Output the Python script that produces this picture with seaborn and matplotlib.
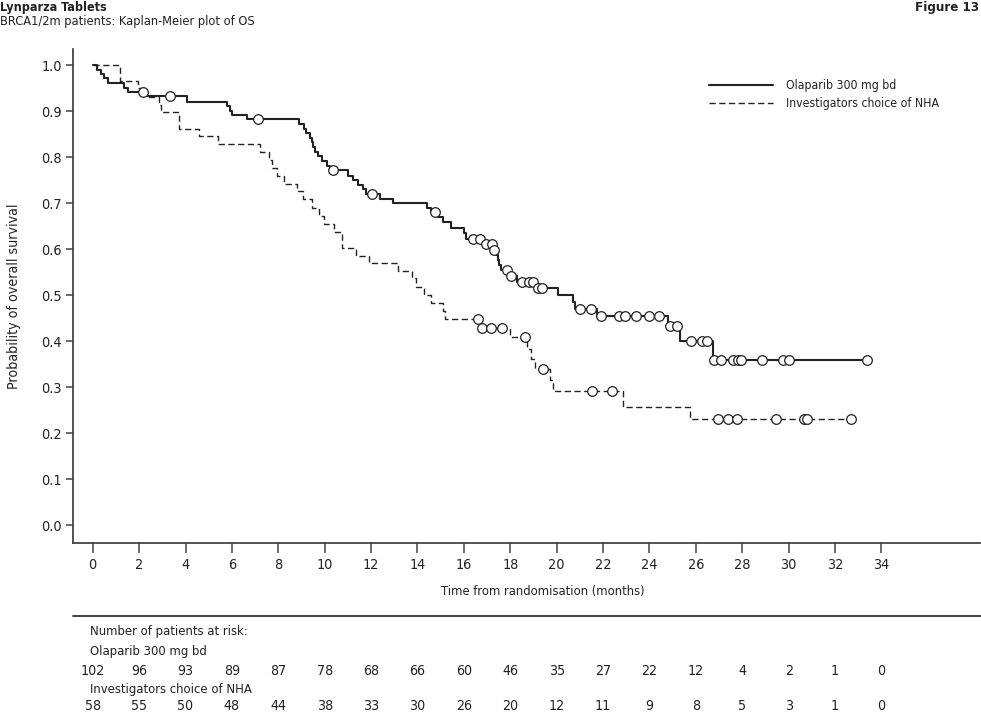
import matplotlib
matplotlib.use("Agg")
import matplotlib.pyplot as plt
import matplotlib.transforms as mtransforms
from matplotlib import font_manager
import numpy as np
import pandas as pd
import seaborn as sns

# Olaparib 300 mg bd: event times (months) and survival after each step
ola_time = [0.0, 0.2, 0.35, 0.5, 0.65, 1.36, 1.52, 2.34, 4.08, 5.78, 5.9, 6.0,
            6.64, 8.9, 9.1, 9.2, 9.35, 9.45, 9.5, 9.6, 9.7, 9.9, 10.1, 10.25,
            11.0, 11.2, 11.45, 11.65, 11.8, 12.4, 12.95, 14.4, 14.6, 14.9, 15.1,
            15.45, 16.0, 16.1, 16.85, 17.25, 17.4, 17.45, 17.5, 17.6, 17.95,
            18.3, 19.1, 20.07, 20.7, 20.8, 21.75, 24.8, 25.3, 26.75]
ola_surv = [1.0, 0.990, 0.980, 0.971, 0.961, 0.951, 0.942, 0.932, 0.920, 0.911,
            0.901, 0.891, 0.882, 0.872, 0.862, 0.852, 0.842, 0.832, 0.822, 0.812,
            0.802, 0.792, 0.781, 0.771, 0.760, 0.750, 0.740, 0.730, 0.720, 0.710,
            0.700, 0.690, 0.680, 0.670, 0.660, 0.647, 0.635, 0.623, 0.611, 0.599,
            0.588, 0.576, 0.565, 0.554, 0.541, 0.528, 0.515, 0.501, 0.485, 0.471,
            0.454, 0.432, 0.401, 0.360]
ola_censor = [2.17, 3.33, 7.12, 10.37, 12.05, 14.75, 16.4, 16.7, 16.95, 17.2,
              17.3, 17.85, 18.03, 18.5, 18.8, 19.0, 19.2, 19.38, 21.0, 21.47,
              21.9, 22.7, 22.95, 23.4, 24.0, 24.4, 24.9, 25.2, 25.8, 26.25, 26.47,
              26.78, 27.07, 27.6, 27.83, 27.95, 28.84, 29.77, 30.03, 33.4]
ola_end = 33.4

# Investigators choice of NHA
nha_time = [0.0, 1.18, 1.97, 2.3, 2.85, 2.95, 3.73, 4.6, 5.4, 7.2, 7.6, 7.75,
            7.95, 8.25, 8.8, 9.05, 9.44, 9.77, 9.97, 10.4, 10.73, 11.35, 11.92,
            13.15, 13.78, 13.95, 14.28, 14.6, 15.1, 15.2, 16.72, 18.0, 18.7, 18.9,
            19.06, 19.72, 19.85, 22.87, 25.75]
nha_surv = [1.0, 0.966, 0.950, 0.931, 0.914, 0.897, 0.862, 0.845, 0.828, 0.811,
            0.794, 0.776, 0.759, 0.741, 0.726, 0.708, 0.690, 0.672, 0.655, 0.638,
            0.603, 0.586, 0.569, 0.552, 0.537, 0.517, 0.500, 0.483, 0.466, 0.448,
            0.428, 0.408, 0.383, 0.361, 0.339, 0.316, 0.292, 0.258, 0.230]
nha_censor = [16.6, 16.77, 17.15, 17.63, 18.63, 19.4, 21.53, 22.4, 26.95, 27.37,
              27.76, 29.45, 30.67, 30.78, 32.7]
nha_end = 32.7

risk_ticks = list(range(0, 36, 2))
ola_risk = [102, 96, 93, 89, 87, 78, 68, 66, 60, 46, 35, 27, 22, 12, 4, 2, 1, 0]
nha_risk = [58, 55, 50, 48, 44, 38, 33, 30, 26, 20, 12, 11, 9, 8, 5, 3, 1, 0]


def step_frame(times, surv, end):
    df = pd.DataFrame({"time": list(times) + [end], "surv": list(surv) + [surv[-1]]})
    return df


def censor_frame(times, surv, ctimes):
    idx = np.searchsorted(times, ctimes, side="right") - 1
    return pd.DataFrame({"time": ctimes, "surv": np.array(surv)[idx]})


sns.set_style("ticks")

# look for a condensed face (the original uses a narrow grotesque)
narrow = [f.name for f in font_manager.fontManager.ttflist
          if "narrow" in f.name.lower() or "condensed" in f.name.lower()
          or f.stretch in ("condensed", "semi-condensed")]
if narrow:
    plt.rcParams["font.family"] = [narrow[0], "DejaVu Sans"]
    k = 1.0
else:
    plt.rcParams["font.family"] = ["Liberation Sans", "DejaVu Sans"]
    k = 0.88
plt.rcParams["font.stretch"] = "condensed"

fs_tick = 10.4 * k
fs_legend = 8.8 * k
fs_xlabel = 9.3 * k
fs_ylabel = 10.2 * k
fs_risk = 9.4 * k
fs_risknum = 10.2 * k

fig = plt.figure(figsize=(9.81, 7.14), dpi=100)
ax = fig.add_axes([73 / 981, 1 - 542.7 / 714, 907 / 981, (542.7 - 49) / 714])

ink = "#222222"
ola_df = step_frame(ola_time, ola_surv, ola_end)
nha_df = step_frame(nha_time, nha_surv, nha_end)

ax.step(ola_df["time"], ola_df["surv"], where="post", color=ink, lw=1.5,
        label="Olaparib 300 mg bd")
ax.step(nha_df["time"], nha_df["surv"], where="post", color=ink, lw=1.0,
        linestyle=(0, (4.5, 2.5)), label="Investigators choice of NHA")

oc = censor_frame(ola_time, ola_surv, ola_censor)
nc = censor_frame(nha_time, nha_surv, nha_censor)
sns.scatterplot(data=oc, x="time", y="surv", ax=ax, marker="o", s=48,
                facecolor="white", edgecolor=ink, linewidth=0.9, zorder=3,
                legend=False)
sns.scatterplot(data=nc, x="time", y="surv", ax=ax, marker="o", s=48,
                facecolor="white", edgecolor=ink, linewidth=0.9, zorder=3,
                legend=False)

ax.set_xlim(-0.85, 38.25)
ax.set_ylim(-0.038, 1.035)
ax.set_xticks(risk_ticks)
ax.set_yticks(np.arange(0, 1.01, 0.1))
ax.set_yticklabels([f"{v:.1f}" for v in np.arange(0, 1.01, 0.1)])
ax.tick_params(axis="x", length=7, width=1.1, color="#444444", labelsize=fs_tick,
               pad=4, labelcolor=ink)
ax.tick_params(axis="y", length=5, width=1.1, color="#444444", labelsize=fs_tick,
               pad=3, labelcolor=ink)
for side in ["left", "bottom"]:
    ax.spines[side].set_linewidth(1.3)
    ax.spines[side].set_color("#444444")
sns.despine(ax=ax)

ax.set_xlabel("Time from randomisation (months)", fontsize=fs_xlabel, color=ink)
ax.xaxis.set_label_coords(0.518, -0.085)
ax.set_ylabel("Probability of overall survival", fontsize=fs_ylabel, color=ink)
ax.yaxis.set_label_coords(-0.057, 0.5)

ax.legend(loc="upper left", bbox_to_anchor=((709 - 73) / 907, (542.7 - 79) / 493.7),
          frameon=False, borderpad=0, borderaxespad=0,
          handlelength=64 / (fs_legend * 100 / 72), handletextpad=1.05,
          labelspacing=0.4, fontsize=fs_legend, labelcolor=ink)

# header
fig.text(0.0, 1 - 8 / 714, "Lynparza Tablets", fontsize=9.0 * k,
         fontweight="bold", va="center", ha="left", color=ink)
fig.text(0.0, 1 - 22 / 714, "BRCA1/2m patients: Kaplan-Meier plot of OS",
         fontsize=9.2 * k, va="center", ha="left", color=ink)
fig.text(1 - 2 / 981, 1 - 8 / 714, "Figure 13", fontsize=9.5 * k,
         fontweight="bold", va="center", ha="right", color=ink)

# risk table
fig.add_artist(plt.Line2D([73 / 981, 1.0], [1 - 616 / 714, 1 - 616 / 714],
                          color="#333333", lw=1.3))
trans = mtransforms.blended_transform_factory(ax.transData, fig.transFigure)
fig.text(90 / 981, 1 - 632 / 714, "Number of patients at risk:", fontsize=fs_risk,
         va="center", ha="left", color=ink)
fig.text(90 / 981, 1 - 652 / 714, "Olaparib 300 mg bd", fontsize=fs_risk,
         va="center", ha="left", color=ink)
fig.text(90 / 981, 1 - 689 / 714, "Investigators choice of NHA", fontsize=fs_risk,
         va="center", ha="left", color=ink)
for t, a, b in zip(risk_ticks, ola_risk, nha_risk):
    ax.text(t, 1 - 671 / 714, str(a), transform=trans, fontsize=fs_risknum,
            ha="center", va="center", color=ink)
    ax.text(t, 1 - 706 / 714, str(b), transform=trans, fontsize=fs_risknum,
            ha="center", va="center", color=ink)

fig.savefig("out.png", dpi=100)
